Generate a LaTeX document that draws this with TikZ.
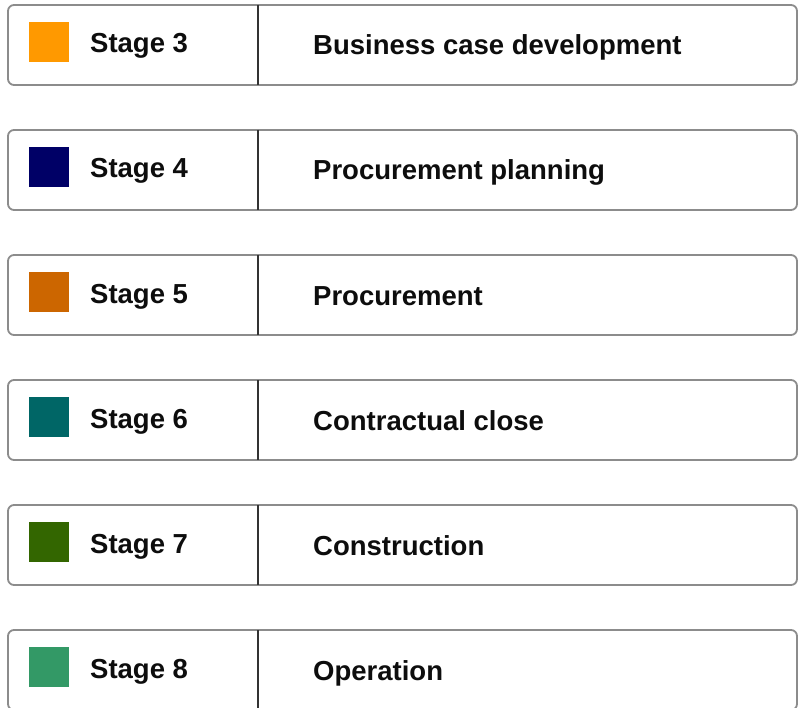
\documentclass[tikz,border=0pt]{standalone}
\usepackage{fontspec}
\setmainfont{Liberation Sans}
\definecolor{stagethree}{HTML}{FF9900}
\definecolor{stagefour}{HTML}{000066}
\definecolor{stagefive}{HTML}{CC6600}
\definecolor{stagesix}{HTML}{006666}
\definecolor{stageseven}{HTML}{336600}
\definecolor{stageeight}{HTML}{339966}
\begin{document}
\begin{tikzpicture}[x=1pt,y=-1pt]
            \tikzset{row/.style={draw=black!45, line width=1.8pt, rounded corners=6pt, fill=white},
                     swatch/.style={draw=none, fill=#1, minimum size=40pt, inner sep=0pt, anchor=north west},
                     label/.style={font=\fontsize{27.5}{31}\selectfont\bfseries, text=black!95, inner sep=0pt, anchor=base west}}
            \useasboundingbox (0,0) rectangle (799,708);
            \clip (0,0) rectangle (799,708);
            
            \foreach [count=\i from 0] \n/\col/\desc in {3/stagethree/Business case development,
                    4/stagefour/Procurement planning, 5/stagefive/Procurement,
                    6/stagesix/Contractual close, 7/stageseven/Construction,
                    8/stageeight/Operation} {
                \pgfmathsetmacro\t{5+125*\i}
                \draw[row] (8,\t) rectangle (797,\t+80);
                \coordinate (top\n) at (258,\t);
                \coordinate (bot\n) at (258,\t+80);
                \draw[black!80, line width=1.2pt] (top\n)--(bot\n);
                \node[swatch=\col] (sq\n) at (29,\t+17) {};
                \node[label] (st\n) at (90,\t+48) {Stage \n};
                \node[label] (ds\n) at (313,\t+50) {\desc};
            }
        \end{tikzpicture}
\end{document}
